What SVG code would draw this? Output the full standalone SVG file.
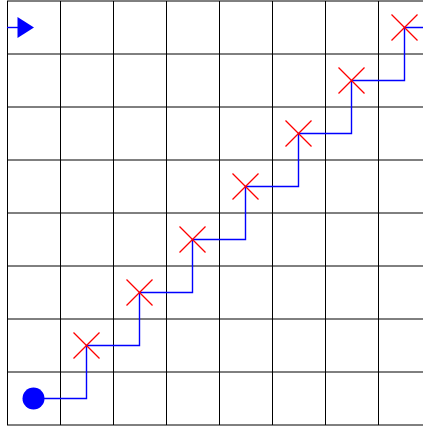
<svg xmlns="http://www.w3.org/2000/svg" width="423" height="426" viewBox="0 0 423 426">
<defs>
<g id="xm" stroke="#ff0000" stroke-width="1.2"><line x1="-13" y1="-13" x2="13" y2="13"/><line x1="-13" y1="13" x2="13" y2="-13"/></g>
</defs>
<rect width="423" height="426" fill="#ffffff"/>
<g id="grid" stroke="#000000" stroke-width="1">
<line x1="7.5" y1="1" x2="7.5" y2="425"/>
<line x1="60.5" y1="1" x2="60.5" y2="425"/>
<line x1="113.5" y1="1" x2="113.5" y2="425"/>
<line x1="166.5" y1="1" x2="166.5" y2="425"/>
<line x1="219.5" y1="1" x2="219.5" y2="425"/>
<line x1="272.5" y1="1" x2="272.5" y2="425"/>
<line x1="325.5" y1="1" x2="325.5" y2="425"/>
<line x1="378.5" y1="1" x2="378.5" y2="425"/>
<line x1="7" y1="1" x2="423" y2="1"/>
<line x1="7" y1="54" x2="423" y2="54"/>
<line x1="7" y1="107" x2="423" y2="107"/>
<line x1="7" y1="160" x2="423" y2="160"/>
<line x1="7" y1="213" x2="423" y2="213"/>
<line x1="7" y1="266" x2="423" y2="266"/>
<line x1="7" y1="319" x2="423" y2="319"/>
<line x1="7" y1="372" x2="423" y2="372"/>
<line x1="7" y1="425" x2="423" y2="425"/>
</g>
<g id="connectors" fill="none" stroke="#0000ff" stroke-width="1.4">
<path d="M33.5,398.5 H86.5 V345.5 H139.5 V292.5 H192.5 V239.5 H245.5 V186.5 H298.5 V133.5 H351.5 V80.5 H404.5 V27.5 H423"/>
<path d="M7,27.5 H18"/>
</g>
<g id="start"><circle cx="33.5" cy="398.5" r="11" fill="#0000ff"/></g>
<g id="end"><polygon points="17.5,17 17.5,38 34,27.5" fill="#0000ff"/></g>
<g id="marks">
<use href="#xm" x="86.5" y="345.5"/>
<use href="#xm" x="139.5" y="292.5"/>
<use href="#xm" x="192.5" y="239.5"/>
<use href="#xm" x="245.5" y="186.5"/>
<use href="#xm" x="298.5" y="133.5"/>
<use href="#xm" x="351.5" y="80.5"/>
<use href="#xm" x="404.5" y="27.5"/>
</g>
</svg>
